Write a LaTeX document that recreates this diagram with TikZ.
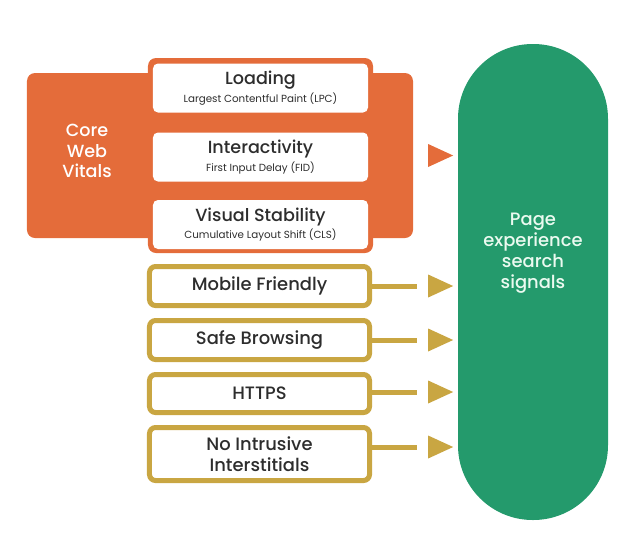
\documentclass[tikz,border=0pt]{standalone}
\usepackage{fontspec}
\setmainfont{Poppins}
\IfFontExistsTF{Poppins Medium}{\newfontfamily\medfont{Poppins Medium}}{\newfontfamily\medfont{Poppins}}
\usetikzlibrary{positioning, shapes.geometric}

\definecolor{cwvorange}{RGB}{228,108,58}
\definecolor{pxgreen}{RGB}{36,154,108}
\definecolor{sigold}{RGB}{201,166,66}
\definecolor{txtdark}{RGB}{45,45,45}

\tikzset{
	vitalsbg/.style={fill=cwvorange,rounded corners=2.4mm,inner sep=0},
	metric/.style={fill=white,rounded corners=1.5mm,minimum width=64.5mm,minimum height=14.7mm,
		align=center,text=txtdark,inner sep=0,font=\fontsize{8.8}{15}\selectfont},
	signal/.style={fill=white,draw=sigold,line width=1.5mm,rounded corners=1.8mm,minimum width=66mm,
		align=center,text=txtdark,inner sep=0,font=\medfont\fontsize{15.3}{18}\selectfont},
	tip/.style={shape=isosceles triangle,isosceles triangle stretches,minimum width=6.9mm,
		minimum height=7.5mm,inner sep=0},
	sigline/.style={draw=sigold,line width=1.5mm}
}
\newcommand{\mtitle}[1]{{\medfont\fontsize{15}{15}\selectfont #1}}

\begin{document}
\begin{tikzpicture}[x=0.3mm,y=-0.3mm]
	\useasboundingbox (0,0) rectangle (633,557);
	% page experience pill
	\node (pill) at (533,282) [fill=pxgreen,rounded corners=22.4mm,minimum width=45mm,minimum height=142.8mm,inner sep=0] {};
	\node (pilltext) at (533,253) [text={rgb,255:red,235;green,250;blue,240},align=center,font=\medfont\fontsize{15.3}{18}\selectfont] {Page\\experience\\search\\signals};

	% core web vitals
	\node (cwvbg) at (220,155.5) [vitalsbg,minimum width=115.8mm,minimum height=49.5mm] {};
	\node (cwvcol) at (260.5,155.5) [vitalsbg,minimum width=67.5mm,minimum height=58.5mm] {};
	\node (cwv) at (87,151) [text=white,align=center,font=\medfont\fontsize{15}{17.5}\selectfont] {Core\\Web\\Vitals};
	\node (loading) at (260.5,88) [metric] {\mtitle{Loading}\\Largest Contentful Paint (LPC)};
	\node (interact) at (260.5,157) [metric] {\mtitle{Interactivity}\\First Input Delay (FID)};
	\node (visual) at (260.5,224.5) [metric] {\mtitle{Visual Stability}\\Cumulative Layout Shift (CLS)};
	\node (vtip) at (435.5,155.5) [tip,fill=cwvorange] {};

	% other signals
	\node (mobile) at (259.5,286) [signal,minimum height=11.7mm] {Mobile Friendly};
	\node (safe) at (259.5,340) [signal,minimum height=11.7mm] {Safe Browsing};
	\node (https) at (259.5,393.5) [signal,minimum height=11.4mm] {HTTPS};
	\node (nointr) at (259.5,454) [signal,minimum height=15.9mm] {No Intrusive\\Interstitials};

	\node (mtip) at (435.5,286) [tip,fill=sigold] {};
	\node (stip) at (435.5,340) [tip,fill=sigold] {};
	\node (htip) at (435.5,392) [tip,fill=sigold] {};
	\node (ntip) at (435.5,447) [tip,fill=sigold] {};
	\path[sigline,shorten >=3.3mm] (mobile.east |- mtip.west) -- (mtip.west);
	\path[sigline,shorten >=3.3mm] (safe.east |- stip.west) -- (stip.west);
	\path[sigline,shorten >=3.3mm] (https.east |- htip.west) -- (htip.west);
	\path[sigline,shorten >=3.3mm] (nointr.east |- ntip.west) -- (ntip.west);
\end{tikzpicture}
\end{document}
